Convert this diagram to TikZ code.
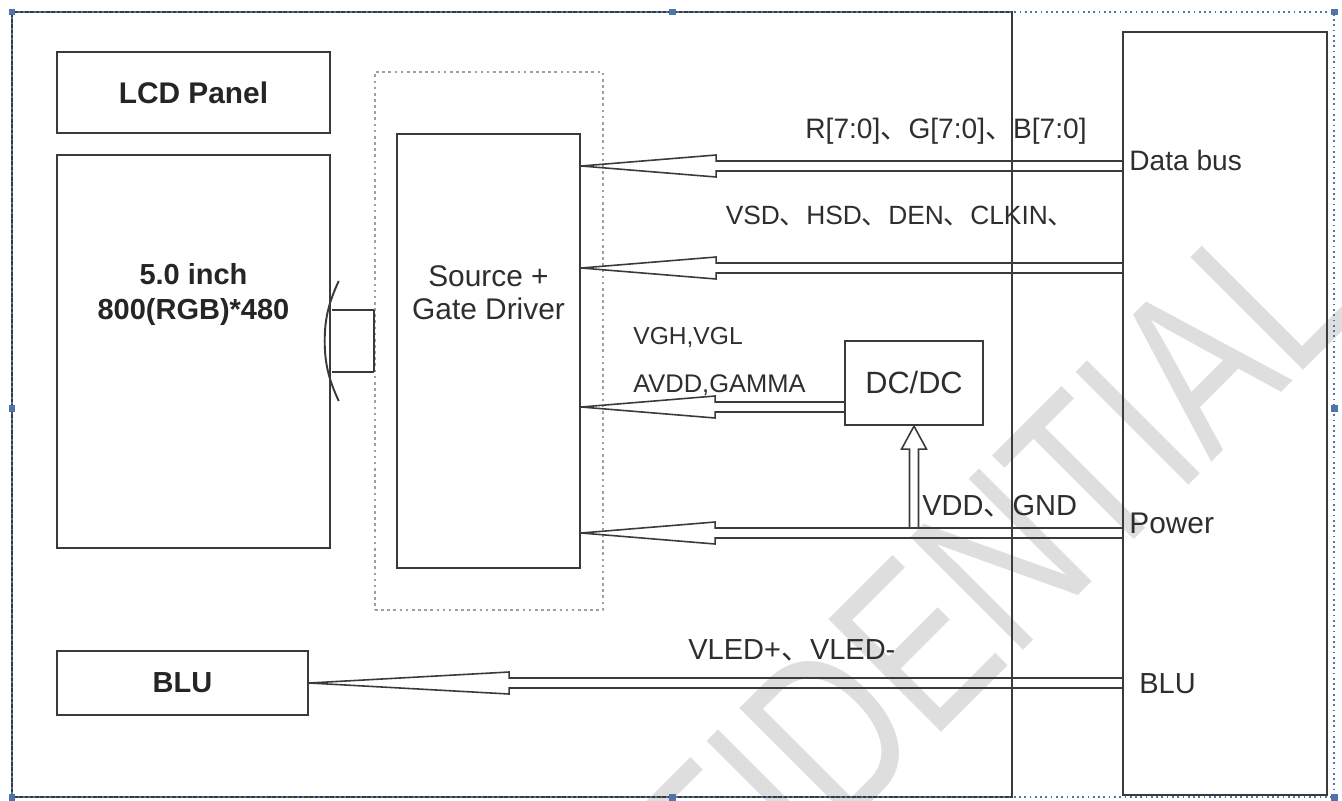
\documentclass[tikz,border=0pt]{standalone}
\usepackage{fontspec}
\setmainfont{Liberation Sans}
\newfontfamily\cjk{Noto Sans CJK SC}
\usetikzlibrary{calc}

\newcommand\dun{{\cjk 、}}
\definecolor{linec}{HTML}{3A3A3A}
\definecolor{txtc}{HTML}{2E2E2E}
\definecolor{selc}{RGB}{80,115,170}

\tikzset{
  box/.style={draw=linec, line width=1.3pt, inner sep=0pt},
  conn/.style={draw=linec, line width=0.9pt},
  lbl/.style={text=txtc, inner sep=0pt, font=\fontsize{16}{19}\selectfont},
  bold/.style={text=txtc!80!black, inner sep=0pt, align=center,
    font=\fontsize{17}{20}\selectfont\bfseries},
  handle/.style={fill=selc, draw=none, minimum size=0.14cm, inner sep=0pt},
  wmark/.style={text=black!13, inner sep=0pt, rotate=45, xscale=0.75,
    font=\fontsize{132}{132}\selectfont},
}

% hollow bus arrow: tip, tail, head length
\newcommand\busarrow[3]{%
  \draw[conn] (#1) -- ++(#3,-11) -- ++(0,6) -- ($(#2)+(0,-5)$);
  \draw[conn] (#1) -- ++(#3,11) -- ++(0,-6) -- ($(#2)+(0,5)$);
}

\begin{document}
\begin{tikzpicture}[x=0.02cm, y=-0.02cm]
  \useasboundingbox (0,0) rectangle (1342,801);

  % watermark
  \begin{scope}
    \clip (0,0) rectangle (1342,801);
    \node[wmark, anchor=base east] (wm) at (1362,312) {CONFIDENTIAL};
  \end{scope}

  % blocks
  \node[box, minimum width=20cm, minimum height=15.7cm] (main) at (512,404.5) {};
  \node[box, minimum width=4.08cm, minimum height=15.26cm] (fpc) at (1225,413.5) {};
  \node[box, bold, minimum width=5.46cm, minimum height=1.62cm] (lcd) at (193.5,92.5) {LCD Panel};
  \node[box, minimum width=5.46cm, minimum height=7.86cm] (panel) at (193.5,351.5) {};
  \node[bold, font=\fontsize{16.5}{20}\selectfont\bfseries] (paneltxt)
    at ($(panel.center)+(0,-57)$) {5.0 inch\\800(RGB)*480};
  \node[draw=gray!75, dotted, line width=1.5pt, minimum width=4.56cm,
    minimum height=10.76cm] (grp) at (489,341) {};
  \node[box, minimum width=3.66cm, minimum height=8.68cm] (drv) at (488.5,351) {};
  \node[lbl, align=center, font=\fontsize{17}{19}\selectfont] (drvtxt)
    at ($(drv.center)+(0,-58)$) {Source +\\Gate Driver};
  \node[box, lbl, minimum width=2.76cm, minimum height=1.68cm,
    font=\fontsize{17.5}{20}\selectfont] (dcdc) at (914,383) {DC/DC};
  \node[box, bold, minimum width=5.02cm, minimum height=1.28cm,
    font=\fontsize{16.5}{20}\selectfont\bfseries] (blu) at (182.5,683) {BLU};

  % labels
  \node[lbl] (rgb) at (946,131) {R[7:0]\dun G[7:0]\dun B[7:0]};
  \node[lbl, font=\fontsize{15}{18}\selectfont] (sync) at (900,216)
    {VSD\dun HSD\dun DEN\dun CLKIN\dun};
  \node[lbl, anchor=west, font=\fontsize{14}{17}\selectfont] (vgh) at (633,337) {VGH,VGL};
  \node[lbl, anchor=west, font=\fontsize{14.5}{17}\selectfont] (avdd) at (633,385) {AVDD,GAMMA};
  \node[lbl, anchor=west, font=\fontsize{16.5}{19}\selectfont] (vdd) at (922,506) {VDD\dun GND};
  \node[lbl, anchor=west, font=\fontsize{16.5}{19}\selectfont] (vled) at (688,650) {VLED+\dun VLED-};
  \node[lbl, anchor=west] (dbus) at (1129,160) {Data bus};
  \node[lbl, anchor=west, font=\fontsize{17}{19}\selectfont] (pwr) at (1129,523) {Power};
  \node[lbl, anchor=west, font=\fontsize{16.5}{19}\selectfont] (blur) at (1139,684) {BLU};

  % arrow heights
  \coordinate (ybus) at (0,166);
  \coordinate (yctl) at (0,268);
  \coordinate (yvgh) at (0,407);
  \coordinate (ypow) at (0,533);

  \coordinate (bus-tip) at (drv.east |- ybus);
  \coordinate (bus-tail) at (fpc.west |- ybus);
  \coordinate (ctl-tip) at (drv.east |- yctl);
  \coordinate (ctl-tail) at (fpc.west |- yctl);
  \coordinate (vgh-tip) at (drv.east |- yvgh);
  \coordinate (vgh-tail) at (dcdc.west |- yvgh);
  \coordinate (pow-tip) at (drv.east |- ypow);
  \coordinate (pow-tail) at (fpc.west |- ypow);
  \coordinate (vdd-tail) at ($(dcdc.south |- ypow)+(0,-5)$);

  % connectors
  \busarrow{bus-tip}{bus-tail}{135}
  \busarrow{ctl-tip}{ctl-tail}{135}
  \busarrow{vgh-tip}{vgh-tail}{134}
  \busarrow{pow-tip}{pow-tail}{134}
  \busarrow{blu.east}{blu.east -| fpc.west}{200}
  \draw[conn] (dcdc.south) -- ++(-12.5,23) -- ++(8,0) -- ($(vdd-tail)+(-4.5,0)$);
  \draw[conn] (dcdc.south) -- ++(12.5,23) -- ++(-8,0) -- ($(vdd-tail)+(4.5,0)$);

  % driver to panel
  \draw[conn] (grp.west) ++(0,-31) -- ++(-42,0);
  \draw[conn] (grp.west) ++(0,31) -- ++(-42,0);
  \draw[conn] (grp.west) ++(0,-31) -- ++(0,62);
  \draw[conn, line width=1.1pt] (grp.west) ++(-35,-60)
    .. controls ++(-9,20) and ++(0,-25) .. ++(-14,60)
    .. controls ++(0,25) and ++(-9,-20) .. ++(14,60);

  % selection frame
  \draw[selc, dotted, line width=1pt] (12,12) rectangle (1334,797);
  \foreach \p [count=\i] in {(12,12),(672,12),(1334,12),(12,408),
      (1334,408),(12,797),(672,797),(1334,797)}
    \node[handle] (h\i) at \p {};
\end{tikzpicture}
\end{document}
